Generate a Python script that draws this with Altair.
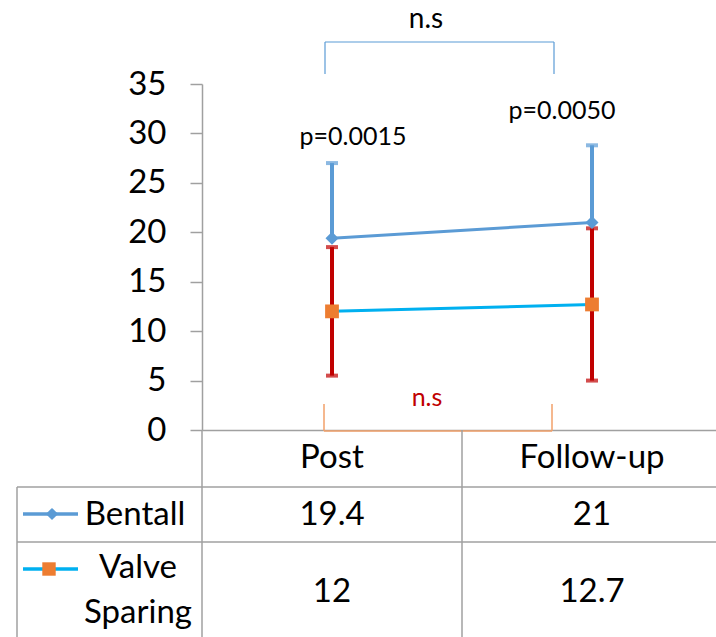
import altair as alt
import pandas as pd

# Echo measurements (mean and SD) for the two surgical groups
categories = ["Post", "Follow-up"]
series_names = ["Bentall", "Valve Sparing"]
bentall_mean = [19.4, 21.0]
bentall_sd = [7.6, 7.8]
valve_mean = [12.0, 12.7]
valve_sd = [6.5, 7.7]
p_labels = ["p=0.0015", "p=0.0050"]
ns_label = "n.s"

BLUE = "#5B9BD5"
CYAN = "#00B0F0"
ORANGE = "#ED7D31"
RED = "#C00000"
BRACKET_ORANGE = "#F2A06A"
GRAY = "#A0A0A0"
FONT = "Lato"
FS = 33

rows = []
for name, means, sds in ((series_names[0], bentall_mean, bentall_sd),
                         (series_names[1], valve_mean, valve_sd)):
    for cat, m, s in zip(categories, means, sds):
        rows.append({"phase": cat, "series": name, "mean": m, "lo": m - s, "hi": m + s})
df = pd.DataFrame(rows)
bentall = df[df.series == series_names[0]]
valve = df[df.series == series_names[1]]
cats = pd.DataFrame({"phase": categories})

W, H = 514, 346
one = alt.Data(values=[{}])

x_enc = alt.X(
    "phase:N", sort=categories,
    scale=alt.Scale(type="band", domain=categories, range=[0, 520], paddingInner=0, paddingOuter=0),
    axis=alt.Axis(title=None, labels=False, ticks=False, domainColor=GRAY, domainWidth=1.5),
)
y_axis = alt.Axis(
    title=None, values=list(range(0, 36, 5)), grid=False, tickSize=12, tickColor=GRAY,
    tickWidth=1.5, domainColor=GRAY, domainWidth=1.5, labelFont=FONT, labelFontSize=FS,
    labelColor="black", labelPadding=24,
)
y_scale = alt.Scale(domain=[0, 35], nice=False)


def yq(field):
    return alt.Y(f"{field}:Q", scale=y_scale, axis=y_axis)


def hrule(x1, x2, y, color, w):
    return alt.Chart(one).mark_rule(color=color, strokeWidth=w).encode(
        x=alt.value(x1), x2=alt.value(x2), y=alt.value(y))


def vrule(x, y1, y2, color, w):
    return alt.Chart(one).mark_rule(color=color, strokeWidth=w).encode(
        x=alt.value(x), y=alt.value(y1), y2=alt.value(y2))


def label(text, x, y, size=FS, color="black", align="center", **kw):
    return alt.Chart(one).mark_text(
        text=text, font=FONT, fontSize=size, color=color, align=align,
        baseline="alphabetic", **kw).encode(x=alt.value(x), y=alt.value(y))


# data series
b_line = alt.Chart(bentall).mark_line(color=BLUE, strokeWidth=3).encode(x=x_enc, y=yq("mean"))
v_line = alt.Chart(valve).mark_line(color=CYAN, strokeWidth=3).encode(x=x_enc, y=yq("mean"))
b_err = alt.Chart(bentall).mark_rule(color=BLUE, strokeWidth=4).encode(x=x_enc, y=yq("mean"), y2="hi:Q")
b_cap = alt.Chart(bentall).mark_tick(color=BLUE, size=12, thickness=4).encode(x=x_enc, y=yq("hi"))
v_err = alt.Chart(valve).mark_rule(color=RED, strokeWidth=4).encode(x=x_enc, y=yq("lo"), y2="hi:Q")
v_cap_hi = alt.Chart(valve).mark_tick(color=RED, size=12, thickness=4).encode(x=x_enc, y=yq("hi"))
v_cap_lo = alt.Chart(valve).mark_tick(color=RED, size=12, thickness=4).encode(x=x_enc, y=yq("lo"))
b_pts = alt.Chart(bentall).mark_point(shape="diamond", filled=True, size=169, color=BLUE, opacity=1).encode(
    x=x_enc, y=yq("mean"))
v_pts = alt.Chart(valve).mark_point(shape="square", filled=True, size=190, color=ORANGE, opacity=1).encode(
    x=x_enc, y=yq("mean"))

# significance brackets and p-values
brackets = [
    hrule(123, 352, -42, BLUE, 1.2), vrule(123, -42, -10, BLUE, 1.2), vrule(352, -42, -10, BLUE, 1.2),
    label(ns_label, 224, -56, size=28),
    hrule(122, 350, 347, BRACKET_ORANGE, 1.5), vrule(122, 320, 347, BRACKET_ORANGE, 1.5),
    vrule(350, 320, 347, BRACKET_ORANGE, 1.5),
    label(ns_label, 225, 322, size=25, color=RED),
    label(p_labels[0], 151, 61, size=25),
    label(p_labels[1], 360, 35, size=25),
]

# data table beneath the axis
grid = [
    vrule(0, 346, 553, GRAY, 1.5), vrule(260, 346, 553, GRAY, 1.5), vrule(-185, 403, 553, GRAY, 1.5),
    hrule(-185, W, 403, GRAY, 1.5), hrule(-185, W, 458, GRAY, 1.5),
]
header = alt.Chart(cats).mark_text(font=FONT, fontSize=FS, color="black", baseline="alphabetic").encode(
    x=x_enc, y=alt.value(384), text="phase:N")
b_vals = alt.Chart(bentall).mark_text(font=FONT, fontSize=FS, color="black", baseline="alphabetic").encode(
    x=x_enc, y=alt.value(441), text=alt.Text("mean:Q", format="~g"))
v_vals = alt.Chart(valve).mark_text(font=FONT, fontSize=FS, color="black", baseline="alphabetic").encode(
    x=x_enc, y=alt.value(518), text=alt.Text("mean:Q", format="~g"))

legend = [
    hrule(-179, -124, 430, BLUE, 3.5),
    alt.Chart(one).mark_point(shape="diamond", filled=True, size=150, color=BLUE, opacity=1).encode(
        x=alt.value(-150), y=alt.value(430)),
    label(series_names[0], -67, 441),
    hrule(-179, -124, 485, CYAN, 3.5),
    alt.Chart(one).mark_point(shape="square", filled=True, size=180, color=ORANGE, opacity=1).encode(
        x=alt.value(-153), y=alt.value(485)),
    label(series_names[1], -64, 494, lineBreak=" ", lineHeight=45),
]

chart = alt.layer(
    b_line, v_line, b_err, b_cap, v_err, v_cap_hi, v_cap_lo, b_pts, v_pts,
    *brackets, *grid, header, b_vals, v_vals, *legend,
).properties(
    width=W, height=H,
    autosize=alt.AutoSizeParams(type="none"),
    padding={"left": 202, "top": 84, "right": 0, "bottom": 207},
    background="white",
).configure_view(stroke=None)

chart.save("out.html", embed_options={"renderer": "svg", "actions": False})
